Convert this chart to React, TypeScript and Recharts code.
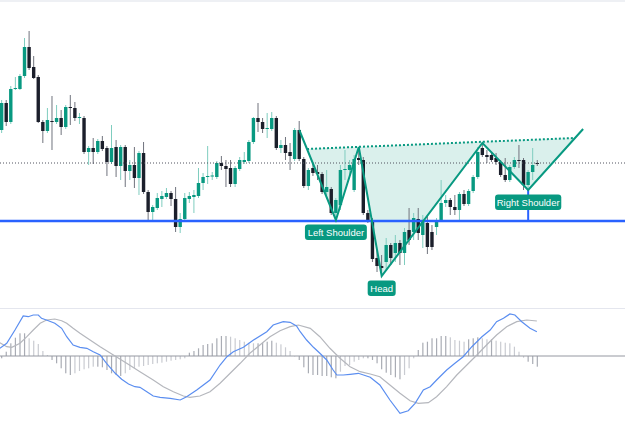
import React from 'react';
import { ComposedChart, Bar, Line, Area, XAxis, YAxis, ReferenceLine, ReferenceDot } from 'recharts';

// ---- Price data (one entry per bar) ----
const opens = [170,197,178,211,211,224,253,233,223,178, 169,179,178,182,173,193,192,182,182,148, 152,148,159,152,138,153,134,153,129,135, 122,147,108,88,92,101,103,107,101,73, 81,101,103,104,117,123,124,123,137,134, 132,116,131,138,139,158,182,178,171,171, 182,152,155,148,141,170,141,114,132,128, 126,108,111,87,95,130,130,110,142,140, 87,80,42,34,38,55,47,57,47,70, 68,81,65,77,68,73,80,97,100,93, 90,106,96,109,123,152,145,145,142,138, 125,120,133,140,140,115,128,137];
const closes = [197,178,211,212,224,253,232,222,178,169, 180,178.5,182,173,193,192.5,182,183,148,152, 148,159,151,138,152,134,153,129,135,122, 147,108,88,93,102,104,107,101,73,81, 102,104,105,117,123,124,124.5,137,134,131, 116,132,140,140,158,182,178,171,172,182, 152,155,147,144,170,141,114,130,127,126, 108,113,87,100,130,131,135,141,140,87, 80,41,34,32,55,42,57,47,68,60, 82,67,80,53,53,80,97,100,93,90, 106,96,109,123,148,145,143,140,138,125, 120,133,140,139,115,128,135,136];
const highs = [200,200,214,223,226,262,269,244,225,180, 192,204,195,190,195,205,198,187,184,154, 162,161,164,154,175,160,155,155,140,153, 149,158,110,95,107,109,112,109,113,87, 107,108,110,132,127,154,128,139,144,140, 140,134,143,148,160,183,197,182,187,188, 184,160,163,157,172,179,143,132,138,135, 128,130,113,102,135,150,140,145,153,143, 90,82,50,45,62,57,65,60,72,92, 87,92,85,84,75,82,120,105,102,105, 108,110,111,125,153,157,150,147,147,140, 142,135,143,155,142,130,152,140];
const lows = [167,174,176,210,210,222,230,221,177,157, 167,150,176,165,171,175,179,176,146,135, 136,146,149,124,136,123,120,113,120,112, 105,106,78,80,90,93,101,94,68,67, 79,97,87,102,110,116,120,121,130,113, 113,113,129,136,137,156,168,167,162,169, 150,147,140,130,139,139,112,110,124,120, 106,105,85,81,90,120,125,108,135,85, 77,38,28,25,30,35,38,35,35,55, 60,60,52,46,50,65,78,93,85,85, 80,94,94,107,121,143,137,138,135,123, 118,118,131,132,110,112,120,134];

// ---- MACD pane ----
const histogram = [-2.3,4.3,12.7,18.3,22.7,22.7,17.7,15.3,12,5, 1,-4,-7.3,-12.3,-17.3,-19,-17.3,-15,-13.3,-12.3, -10.7,-10.7,-11.3,-14,-17.3,-19,-20,-17.3,-14,-12.3, -10.7,-10,-9,-8,-7.3,-6.7,-5.7,-4.7,-4,-3.3, -2.3,3.3,5,7.7,11,12,12.7,17.7,20,20, 19.3,17.7,16,14.3,13.3,12.7,12.7,13.3,14.3,15.3, 13.3,11.7,8.7,5,0,-4,-11.3,-17.3,-19,-19, -20,-20,-21.3,-22.3,-15.7,-10,-9,-5.7,-4,-2.3, -2.3,-4,-7.3,-13.3,-16.7,-19,-21.3,-23.3,-19,-12.3, -2.3,6,13.3,14.3,17.7,17.7,20,20,18.7,16, 15.3,14.3,16.7,17.7,18.7,17.7,16.7,16.7,15.3,14.3, 13.3,12.7,9.3,4.3,-1.7,-5.7,-8,-10.7];
const macdPos = [-0.4,1.1,2.9,4.7,5.8,6.9,8.0,8.7,10.2,11.6,13.1,14.2,15.6,17.1,18.6,20.0,21.5,22.9,24.8,26.2,27.7,29.1,30.2,31.7,33.1,34.6,36.8,39.0,40.4,42.6,45.5,47.7,49.2,50.6,52.8,55.0,57.9,59.3,61.5,63.0,64.4,65.2,66.6,68.1,69.5,71.0,72.4,73.2,74.6,76.1,77.9,80.5,82.6,84.8,87.0,88.8,90.3,92.1,93.6,95.0,97.2,99.0,100.8,102.7,104.9,106.7,108.1,109.6,111.0,112.1,113.6,115.4,116.9];
const macdValues = [7.7,12.7,26,40,39.3,41,41,37.7,35.3,32.7,27.7,19.3,11,8.7,7.7,4.3,1,-7.3,-17.3,-23.3,-28,-30.7,-31.3,-35.7,-40,-41.3,-42.3,-44,-40.7,-34,-24,-9,-0.7,4.3,8.7,16,24.3,31,34.3,33.7,30,24.3,16,8.7,2.7,-4,-14,-19,-19,-18.3,-17.3,-21.3,-29,-44,-57.3,-54.7,-47.3,-34,-30.7,-24,-14,-7.3,-0.7,9.3,19.3,26,34.3,37.7,42,41,34.3,27.7,24.3];
const signalPos = [-0.4,1.1,2.2,4.0,5.5,6.9,8.4,9.8,11.6,13.1,14.2,15.6,17.1,19.3,21.5,24.4,27.3,30.2,33.1,35.3,37.5,39.7,41.1,43.3,45.5,47.7,49.9,52.1,54.2,56.4,58.6,60.8,63.0,64.8,67.4,69.5,71.7,73.9,76.1,78.3,80.5,82.6,84.8,87.0,89.2,91.0,93.2,95.0,97.2,99.4,101.6,103.8,105.9,108.1,110.3,112.5,114.7,116.9];
const signalValues = [13.3,9.3,8.7,12.7,19.3,26,32.7,36,37,35.3,32.7,27.7,22.7,16,9.3,1,-7.3,-15.7,-24,-30.7,-35.7,-40,-41.3,-40,-35.7,-27.3,-17.3,-7.3,2.7,11,19.3,25.3,29.3,31,27.7,19.3,7.7,-2.3,-10.7,-15.7,-18,-20.7,-29,-37.3,-44.7,-47.3,-46.7,-40.7,-30.7,-19,-9,1,11,21,29.3,34.3,36,35];

// ---- Head & shoulders drawing ----
const patternPos = [65, 73, 78, 83, 105, 115, 127];
const patternPrice = [170, 80, 153, 24, 157, 110, 171];
const necklinePos = [66.7, 125.2];
const necklinePrice = [151, 162];
const labelNames = ['Left Shoulder', 'Head', 'Right Shoulder'];
const labelPos = [73, 83, 115];
const labelPrice = [80, 24, 110];
const supportPrice = 79;
const lastPrice = 137;

// ---- derived tables ----
const candleData = opens.map((o, i) => ({
  i, open: o, close: closes[i], high: highs[i], low: lows[i], range: [lows[i], highs[i]],
}));
const histData = histogram.map((h, i) => ({
  i, h, grow: i === 0 ? true : Math.abs(h) >= Math.abs(histogram[i - 1]),
}));
const macdData = macdPos.map((p, k) => ({ i: p, v: macdValues[k] }));
const signalData = signalPos.map((p, k) => ({ i: p, v: signalValues[k] }));
const patternData = patternPos.map((p, k) => ({ i: p, p: patternPrice[k] }));
const neckData = necklinePos.map((p, k) => ({ i: p, p: necklinePrice[k] }));
const neckAt = (x: number) =>
  necklinePrice[0] + ((x - necklinePos[0]) * (necklinePrice[1] - necklinePrice[0])) / (necklinePos[1] - necklinePos[0]);
const fillData = [
  { i: necklinePos[0], band: [necklinePrice[0], necklinePrice[0]] },
  ...patternPos
    .map((p, k) => ({ p, v: patternPrice[k] }))
    .filter((o) => o.p > necklinePos[0] && o.p < necklinePos[1])
    .map((o) => ({ i: o.p, band: [Math.min(o.v, neckAt(o.p)), neckAt(o.p)] })),
  { i: necklinePos[1], band: [necklinePrice[1], necklinePrice[1]] },
];

const X_DOMAIN: [number, number] = [-0.371, 136.15];
const TEAL = '#089981';

const Candle = (props: any) => {
  const { x, y, width, height, payload } = props;
  if (!payload) return null;
  const { open, close, high, low } = payload;
  const top = Math.min(y, y + height);
  const h = Math.abs(height);
  const cx = x + width / 2;
  const span = high - low;
  const toY = (v: number) => (span === 0 ? top : top + ((high - v) / span) * h);
  const up = close >= open;
  const bTop = toY(Math.max(open, close));
  const bBot = toY(Math.min(open, close));
  const bw = 3.4;
  return (
    <g>
      <line x1={cx} x2={cx} y1={top} y2={top + h} stroke={up ? '#7fcdbf' : '#70737d'} strokeWidth={1} />
      <rect x={cx - bw / 2} y={bTop} width={bw} height={Math.max(1, bBot - bTop)} fill={up ? TEAL : '#1b1f2b'} />
    </g>
  );
};

const HistBar = (props: any) => {
  const { x, y, width, height, payload } = props;
  if (!payload) return null;
  const cx = x + width / 2;
  const top = Math.min(y, y + height);
  const h = Math.abs(height);
  return <rect x={cx - 0.6} y={top} width={1.2} height={Math.max(0.5, h)} fill={payload.grow ? '#a9acb4' : '#c9cbd1'} />;
};

const makeLabel = (text: string) => (props: any) => {
  const { cx, cy } = props;
  const w = Math.max(28, text.length * 4.3 + 6);
  return (
    <g>
      <rect x={cx - w / 2} y={cy + 4.5} width={w} height={15.5} rx={3} ry={3} fill={TEAL} />
      <text x={cx} y={cy + 12.5} textAnchor="middle" dominantBaseline="central" fill="#ffffff"
        fontSize={9.5} fontFamily="'Liberation Sans', Arial, sans-serif">{text}</text>
    </g>
  );
};

export default function App() {
  return (
    <div style={{ position: 'absolute', left: 0, top: 0, width: 625, height: 443, background: '#ffffff', overflow: 'hidden' }}>
      <div style={{ position: 'absolute', left: 0, top: 0 }}>
        <ComposedChart width={625} height={308} data={candleData} margin={{ top: 0, right: 0, bottom: 0, left: 0 }}>
          <XAxis dataKey="i" type="number" domain={X_DOMAIN} hide allowDataOverflow />
          <YAxis type="number" domain={[-8, 300]} hide allowDataOverflow />
          <Area data={fillData} dataKey="band" type="linear" fill={TEAL} fillOpacity={0.15} stroke="none" isAnimationActive={false} />
          <ReferenceLine y={lastPrice} stroke="#50535e" strokeDasharray="1 2" strokeWidth={1} />
          <Bar dataKey="range" shape={Candle} barSize={4} isAnimationActive={false} />
          <ReferenceLine y={supportPrice} stroke="#2962ff" strokeWidth={2.5} />
          <ReferenceLine segment={[{ x: labelPos[2], y: labelPrice[2] }, { x: labelPos[2], y: supportPrice }]} stroke="#2962ff" strokeWidth={2} />
          <Line data={neckData} dataKey="p" type="linear" stroke={TEAL} strokeWidth={2} strokeDasharray="2 2" dot={false} isAnimationActive={false} />
          <Line data={patternData} dataKey="p" type="linear" stroke={TEAL} strokeWidth={2} dot={false} isAnimationActive={false} />
          {labelNames.map((t, k) => (
            <ReferenceDot key={t} x={labelPos[k]} y={labelPrice[k]} r={0} shape={makeLabel(t)} />
          ))}
        </ComposedChart>
      </div>
      <div style={{ position: 'absolute', left: 0, top: 0, width: 625, height: 2, background: '#eef0f4' }} />
      <div style={{ position: 'absolute', left: 0, top: 308, width: 625, height: 1, background: '#e4e6ee' }} />
      <div style={{ position: 'absolute', left: 0, top: 308 }}>
        <ComposedChart width={625} height={135} data={histData} margin={{ top: 0, right: 0, bottom: 0, left: 0 }}>
          <XAxis dataKey="i" type="number" domain={X_DOMAIN} hide allowDataOverflow />
          <YAxis type="number" domain={[-87, 48]} hide allowDataOverflow />
          <ReferenceLine y={0} stroke="#9598a1" strokeWidth={1} />
          <Bar dataKey="h" shape={HistBar} barSize={2} isAnimationActive={false} />
          <Line data={signalData} dataKey="v" type="linear" stroke="#b5b7bd" strokeWidth={1.2} dot={false} isAnimationActive={false} />
          <Line data={macdData} dataKey="v" type="linear" stroke="#5b8ef0" strokeWidth={1.2} dot={false} isAnimationActive={false} />
        </ComposedChart>
      </div>
    </div>
  );
}
